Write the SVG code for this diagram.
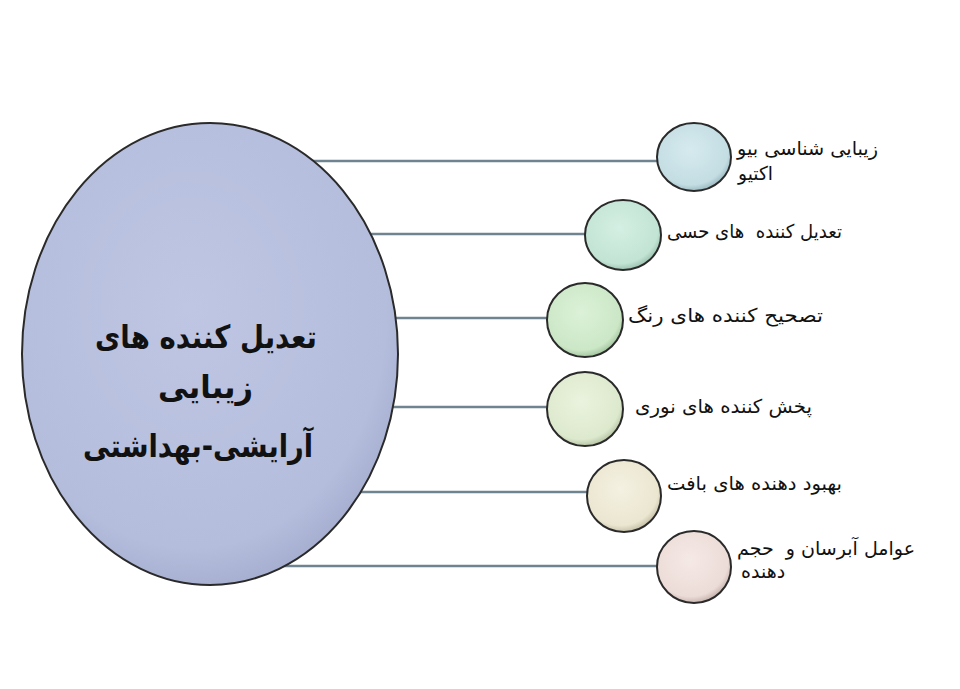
<svg xmlns="http://www.w3.org/2000/svg" width="960" height="689" viewBox="0 0 960 689">
<style>
.conn{stroke:#708391;stroke-width:2.5;fill:none}
.bub{stroke:#2a2a2a;stroke-width:2}
.lbl{font-family:"DejaVu Sans",sans-serif;font-size:19px;fill:#111;white-space:pre}
.big{font-family:"DejaVu Sans",sans-serif;font-size:32px;font-weight:bold;fill:#111}
</style>
<defs>
<radialGradient id="gBig" cx="45%" cy="40%" r="65%">
<stop offset="0" stop-color="#bec6e3"/><stop offset="0.8" stop-color="#b5bddd"/><stop offset="1" stop-color="#a0a9ca"/>
</radialGradient>
<radialGradient id="g1" cx="45%" cy="40%" r="60%"><stop offset="0" stop-color="#d6eaee"/><stop offset="0.85" stop-color="#c3dde3"/><stop offset="1" stop-color="#9fbcc4"/></radialGradient>
<radialGradient id="g2" cx="45%" cy="40%" r="60%"><stop offset="0" stop-color="#d4efe3"/><stop offset="0.85" stop-color="#c2e4d4"/><stop offset="1" stop-color="#9ec4b2"/></radialGradient>
<radialGradient id="g3" cx="45%" cy="40%" r="60%"><stop offset="0" stop-color="#dcf1d8"/><stop offset="0.85" stop-color="#cbe7c6"/><stop offset="1" stop-color="#a6c7a2"/></radialGradient>
<radialGradient id="g4" cx="45%" cy="40%" r="60%"><stop offset="0" stop-color="#eaf3de"/><stop offset="0.85" stop-color="#dde9cd"/><stop offset="1" stop-color="#b9c8a8"/></radialGradient>
<radialGradient id="g5" cx="45%" cy="40%" r="60%"><stop offset="0" stop-color="#f4f1e2"/><stop offset="0.85" stop-color="#ebe6d0"/><stop offset="1" stop-color="#c8c2aa"/></radialGradient>
<radialGradient id="g6" cx="45%" cy="40%" r="60%"><stop offset="0" stop-color="#f5e9e6"/><stop offset="0.85" stop-color="#ecdcd7"/><stop offset="1" stop-color="#c8b5b0"/></radialGradient>
</defs>
<rect width="960" height="689" fill="#ffffff"/>
<g id="connectors">
<line class="conn" x1="250" y1="161" x2="657" y2="161"/>
<line class="conn" x1="300" y1="234" x2="585" y2="234"/>
<line class="conn" x1="330" y1="318" x2="547" y2="318"/>
<line class="conn" x1="330" y1="407" x2="547" y2="407"/>
<line class="conn" x1="310" y1="492" x2="587" y2="492"/>
<line class="conn" x1="250" y1="566" x2="657" y2="566"/>
</g>
<g id="center">
<ellipse cx="210" cy="354" rx="188" ry="231" fill="url(#gBig)" stroke="#2a2a2a" stroke-width="2"/>
<text class="big" x="95" y="348" textLength="222" lengthAdjust="spacingAndGlyphs">تعدیل کننده های</text>
<text class="big" x="158" y="398" textLength="95" lengthAdjust="spacingAndGlyphs">زیبایی</text>
<text class="big" x="83" y="457" textLength="230" lengthAdjust="spacingAndGlyphs">آرایشی-بهداشتی</text>
</g>
<g id="n1">
<ellipse class="bub" cx="694" cy="157" rx="37" ry="34" fill="url(#g1)"/>
<text class="lbl" x="737" y="155" textLength="141" lengthAdjust="spacingAndGlyphs">زیبایی شناسی بیو</text>
<text class="lbl" x="738" y="180" textLength="35" lengthAdjust="spacingAndGlyphs">اکتیو</text>
</g>
<g id="n2">
<ellipse class="bub" cx="623" cy="235" rx="38" ry="35" fill="url(#g2)"/>
<text class="lbl" x="667" y="238" textLength="175" lengthAdjust="spacingAndGlyphs">تعدیل کننده  های حسی</text>
</g>
<g id="n3">
<ellipse class="bub" cx="585" cy="320" rx="38" ry="37" fill="url(#g3)"/>
<text class="lbl" x="628" y="322" textLength="195" lengthAdjust="spacingAndGlyphs">تصحیح کننده های رنگ</text>
</g>
<g id="n4">
<ellipse class="bub" cx="585" cy="409" rx="38" ry="37" fill="url(#g4)"/>
<text class="lbl" x="635" y="413" textLength="177" lengthAdjust="spacingAndGlyphs">پخش کننده های نوری</text>
</g>
<g id="n5">
<ellipse class="bub" cx="624" cy="496" rx="37" ry="36" fill="url(#g5)"/>
<text class="lbl" x="667" y="490" textLength="175" lengthAdjust="spacingAndGlyphs">بهبود دهنده های بافت</text>
</g>
<g id="n6">
<ellipse class="bub" cx="694" cy="567" rx="37" ry="36" fill="url(#g6)"/>
<text class="lbl" x="737" y="555" textLength="178" lengthAdjust="spacingAndGlyphs">عوامل آبرسان و  حجم</text>
<text class="lbl" x="741" y="578">دهنده</text>
</g>
</svg>
